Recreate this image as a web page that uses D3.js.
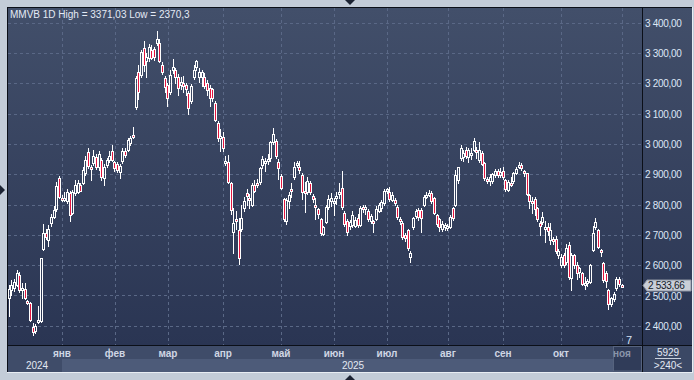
<!DOCTYPE html>
<html>
<head>
<meta charset="utf-8">
<script src="https://cdn.jsdelivr.net/npm/d3@7"></script>
<style>
html, body { margin: 0; padding: 0; background: #c3ccd8; }
svg { display: block; font-family: "Liberation Sans", Arial, sans-serif; }
</style>
</head>
<body>
<svg id="chart" width="694" height="380"></svg>
<script>
// daily candles, MMVB 1D
var opens = [2490,2518,2525,2535,2567,2518,2520,2482,2474,2397,2384,2413,2414,2652,2705,2683,2738,2758,2785,2886,
  2822,2814,2810,2837,2771,2837,2842,2864,2872,2903,2972,2925,2936,2958,2925,2947,2887,2930,2947,2977,
  2939,2933,2908,2942,2977,2980,3002,3030,3123,3238,3227,3315,3272,3282,3310,3313,3332,3332,3262,3216,
  3194,3172,3244,3244,3222,3195,3200,3194,3167,3141,3222,3254,3220,3222,3222,3200,3183,3180,3134,3068,
  3018,3024,2936,2941,2870,2710,2753,2716,2719,2790,2837,2820,2798,2866,2871,2873,2930,2938,2943,2952,
  3007,3011,2940,2894,2819,2746,2810,2850,2892,2933,2925,2897,2845,2842,2872,2828,2799,2784,2751,2703,
  2741,2793,2812,2813,2820,2838,2853,2773,2747,2729,2733,2729,2754,2732,2791,2785,2780,2747,2745,2751,
  2780,2790,2806,2845,2842,2815,2815,2793,2751,2740,2700,2716,2626,2727,2762,2781,2782,2798,2826,2831,
  2837,2820,2765,2751,2718,2725,2721,2727,2787,2798,2881,2952,2958,2980,2958,2966,2980,2980,2947,2971,
  2936,2883,2876,2879,2897,2912,2897,2912,2881,2848,2872,2879,2905,2925,2930,2912,2903,2831,2813,2817,
  2787,2740,2743,2718,2727,2683,2685,2685,2633,2600,2633,2611,2666,2556,2633,2600,2578,2573,2534,2540,
  2545,2650,2725,2716,2650,2606,2573,2518,2471,2489,2524,2553,2534];
var highs = [2535,2550,2555,2584,2578,2542,2542,2486,2478,2408,2404,2465,2625,2736,2720,2732,2770,2795,2875,2893,
  2830,2842,2850,2845,2848,2880,2881,2872,2925,2960,2985,2930,2980,2968,2975,2955,2935,2955,2975,2996,
  2945,2940,2935,2985,2988,3020,3025,3057,3225,3260,3310,3340,3300,3330,3325,3320,3371.03,3345,3270,3225,
  3200,3245,3280,3250,3230,3220,3225,3200,3175,3198,3262,3276,3250,3245,3235,3210,3195,3185,3140,3075,
  3050,3040,2960,2965,2875,2790,2778,2755,2800,2825,2850,2835,2870,2880,2885,2925,2960,2955,2968,3010,
  3052,3015,2950,2900,2822,2820,2840,2870,2940,2945,2945,2905,2875,2890,2878,2835,2820,2790,2755,2730,
  2800,2830,2838,2820,2840,2870,2912,2777,2752,2750,2778,2760,2770,2795,2800,2798,2786,2770,2750,2795,
  2805,2815,2850,2856,2857,2840,2820,2798,2760,2745,2705,2720,2645,2760,2785,2787,2788,2830,2840,2848,
  2845,2825,2770,2755,2745,2740,2735,2765,2792,2915,2925,2995,2980,2990,2985,2985,3018,2990,3005,2975,
  2940,2890,2900,2905,2918,2916,2920,2925,2885,2880,2890,2908,2925,2940,2937,2915,2905,2835,2825,2825,
  2792,2745,2775,2745,2740,2740,2692,2695,2652,2635,2640,2668,2675,2640,2638,2610,2595,2578,2560,2555,
  2605,2729,2754,2720,2652,2610,2580,2520,2495,2510,2562,2560,2536];
var lows = [2432,2500,2515,2530,2512,2490,2487,2472,2416,2370.3,2377,2410,2412,2650,2685,2663,2730,2754,2778,2820,
  2810,2810,2805,2744,2768,2832,2838,2843,2868,2899,2920,2881,2930,2918,2915,2880,2865,2925,2940,2942,
  2912,2908,2886,2938,2958,2975,2998,3018,3115,3148,3220,3240,3222,3275,3280,3277,3325,3270,3230,3170,
  3126,3165,3235,3200,3160,3180,3170,3160,3098,3135,3215,3245,3205,3190,3185,3160,3125,3140,3075,3010,
  2975,2975,2930,2870,2770,2640,2720,2605,2712,2780,2800,2790,2795,2840,2858,2868,2920,2910,2935,2945,
  3000,2955,2885,2850,2745,2736,2790,2825,2885,2925,2903,2818,2775,2835,2835,2808,2753,2755,2700,2700,
  2738,2785,2795,2765,2803,2822,2785,2730,2698,2720,2726,2725,2725,2729,2775,2770,2745,2740,2710,2748,
  2775,2780,2800,2837,2810,2810,2798,2752,2735,2685,2680,2650,2610,2720,2755,2750,2710,2795,2820,2828,
  2805,2770,2730,2712,2713,2715,2716,2722,2750,2795,2870,2948,2945,2955,2940,2950,2975,2955,2940,2930,
  2880,2870,2865,2870,2890,2892,2890,2885,2845,2845,2860,2870,2900,2920,2915,2895,2830,2790,2772,2765,
  2745,2700,2735,2676,2700,2668,2670,2640,2625,2595,2595,2605,2555,2518,2590,2555,2560,2533,2522,2530,
  2540,2648,2720,2655,2630,2545,2527,2454,2465,2480,2518,2530,2532];
var closes = [2520,2534,2545,2573,2518,2524,2490,2477,2419,2380,2399,2418,2622,2707,2692,2719,2760,2782,2860,2826,
  2816,2820,2842,2766,2842,2864,2870,2846,2914,2947,2927,2920,2960,2925,2966,2890,2925,2947,2960,2947,
  2919,2914,2927,2978,2964,3013,3018,3024,3216,3172,3304,3260,3288,3320,3285,3288,3346,3273,3236,3189,
  3150,3227,3255,3222,3183,3203,3190,3181,3120,3191,3244,3273,3236,3238,3190,3178,3150,3150,3079,3018,
  3025,2985,2942,2875,2782,2738,2748,2622,2754,2810,2829,2815,2864,2846,2868,2919,2949,2943,2950,3007,
  3033,2960,2919,2853,2751,2815,2831,2846,2925,2937,2914,2842,2843,2876,2842,2817,2793,2769,2705,2725,
  2791,2817,2823,2813,2828,2841,2791,2736,2710,2743,2765,2749,2732,2787,2784,2791,2752,2762,2743,2784,
  2799,2809,2844,2850,2817,2831,2804,2758,2747,2692,2690,2658,2639,2754,2780,2760,2755,2826,2830,2839,
  2810,2773,2736,2725,2736,2732,2730,2760,2754,2897,2923,2985,2971,2960,2980,2969,3011,2978,2980,2934,
  2886,2879,2892,2901,2912,2897,2908,2892,2850,2875,2870,2903,2916,2930,2921,2905,2835,2810,2808,2785,
  2751,2729,2760,2727,2714,2716,2678,2645,2645,2628,2600,2655,2562,2633,2600,2573,2590,2538,2540,2548,
  2600,2707,2743,2661,2644,2551,2549,2472,2490,2503,2553,2536,2533.66];

var monthNames = ["янв", "фев", "мар", "апр", "май", "июн", "июл", "авг", "сен", "окт", "ноя"];
var monthStarts = [20, 40, 60, 81, 103, 123, 143, 166, 187, 209, 232];
var yearNames = ["2024", "2025"];
var priceTicks = [2400, 2500, 2600, 2700, 2800, 2900, 3000, 3100, 3200, 3300, 3400];
var visibleBars = 240;
var lastPrice = 2533.66;
var volumeLabel = "5929";

var plotL = 8, plotR = 642, plotT = 8, plotB = 345;
var boxR = 692, boxB = 372;

var svg = d3.select("#chart");

var x = d3.scaleLinear().domain([0, visibleBars]).range([plotL, plotR]);
var y = d3.scaleLinear().domain([2400, 3400]).range([325.7, 22.7]);

var fmt = function(v) {
  var s = v.toFixed(2).replace(".", ",");
  var parts = s.split(",");
  return parts[0].replace(/\B(?=(\d{3})+(?!\d))/g, " ") + "," + parts[1];
};

var defs = svg.append("defs");
var grad = defs.append("linearGradient").attr("id", "bg").attr("x1", 0).attr("y1", 0).attr("x2", 0).attr("y2", 1);
grad.append("stop").attr("offset", "0%").attr("stop-color", "#424f6a");
grad.append("stop").attr("offset", "100%").attr("stop-color", "#2a3553");

// frame
svg.append("rect").attr("x", 7).attr("y", 7).attr("width", boxR - 7).attr("height", boxB - 7).attr("fill", "#3c4965");
svg.append("rect").attr("x", plotL).attr("y", plotT).attr("width", boxR - plotL).attr("height", plotB - plotT)
  .attr("fill", "url(#bg)");

// bottom axis bands
svg.append("rect").attr("x", plotL).attr("y", plotB + 1).attr("width", plotR - plotL).attr("height", boxB - plotB - 1)
  .attr("fill", "#3f4c69");
svg.append("rect").attr("x", Math.round(x(monthStarts[0] + 0.5))).attr("y", 359)
  .attr("width", 613 - Math.round(x(monthStarts[0] + 0.5))).attr("height", boxB - 359)
  .attr("fill", "#4d5b79");
svg.append("rect").attr("x", plotR + 1).attr("y", plotB + 1).attr("width", boxR - plotR - 1).attr("height", boxB - plotB - 1)
  .attr("fill", "#3b4865");

// current period box (under the labels)
svg.append("rect").attr("x", 613.5).attr("y", plotB + 1.5).attr("width", plotR - 614).attr("height", boxB - plotB - 2.5)
  .attr("fill", "#2c3754").attr("fill-opacity", 0.75).attr("stroke", "#56637e");

// grid
svg.append("g").selectAll("line").data(priceTicks).enter().append("line")
  .attr("x1", plotL).attr("x2", plotR)
  .attr("y1", function(d) { return Math.round(y(d)) + 0.5; })
  .attr("y2", function(d) { return Math.round(y(d)) + 0.5; })
  .attr("stroke", "#5a6886").attr("stroke-dasharray", "3,3");

svg.append("g").selectAll("line").data(monthStarts).enter().append("line")
  .attr("x1", function(d) { return Math.round(x(d + 0.5)) + 0.5; })
  .attr("x2", function(d) { return Math.round(x(d + 0.5)) + 0.5; })
  .attr("y1", plotT).attr("y2", plotB)
  .attr("stroke", "#5a6886").attr("stroke-dasharray", "3,3");

// candles
var candles = d3.range(closes.length).map(function(i) {
  return { i: i, o: opens[i], h: highs[i], l: lows[i], c: closes[i] };
});

var cg = svg.append("g");
candles.forEach(function(d) {
  var left = Math.floor(x(d.i + 0.5)) - 1;
  var top = Math.round(y(Math.max(d.o, d.c)));
  var bot = Math.round(y(Math.min(d.o, d.c)));
  if (bot - top < 2) bot = top + 2;
  var hi = Math.round(y(d.h)), lo = Math.round(y(d.l));
  if (hi < top) {
    cg.append("line").attr("x1", left + 1.5).attr("x2", left + 1.5)
      .attr("y1", hi).attr("y2", top).attr("stroke", "#ffffff");
  }
  if (lo > bot) {
    cg.append("line").attr("x1", left + 1.5).attr("x2", left + 1.5)
      .attr("y1", bot + 1).attr("y2", lo + 1).attr("stroke", "#ffffff");
  }
  cg.append("rect")
    .attr("x", left + 0.5).attr("y", top + 0.5)
    .attr("width", 2).attr("height", bot - top)
    .attr("fill", d.c < d.o ? "#e3153f" : "none")
    .attr("stroke", "#ffffff");
});

// separators
svg.append("line").attr("x1", plotR + 0.5).attr("x2", plotR + 0.5).attr("y1", plotT).attr("y2", boxB)
  .attr("stroke", "#0b0f18");
svg.append("line").attr("x1", plotL).attr("x2", boxR).attr("y1", plotB + 0.5).attr("y2", plotB + 0.5)
  .attr("stroke", "#0b0f18");
svg.append("line").attr("x1", 7.5).attr("x2", 7.5).attr("y1", 7).attr("y2", boxB).attr("stroke", "#0b0f18");
svg.append("line").attr("x1", 7).attr("x2", boxR).attr("y1", 7.5).attr("y2", 7.5).attr("stroke", "#0b0f18");
svg.append("line").attr("x1", boxR + 0.5).attr("x2", boxR + 0.5).attr("y1", 7).attr("y2", boxB + 1).attr("stroke", "#e8edf3");
svg.append("line").attr("x1", 7).attr("x2", boxR + 1).attr("y1", boxB + 0.5).attr("y2", boxB + 0.5).attr("stroke", "#e8edf3");

// right axis
svg.append("g").selectAll("text").data(priceTicks).enter().append("text")
  .attr("x", plotR + 3).attr("y", function(d) { return y(d) + 1.5; })
  .attr("dominant-baseline", "middle")
  .attr("font-size", 10).attr("letter-spacing", -0.3)
  .attr("fill", "#dde6f6")
  .text(function(d) { return fmt(d); });

// last price marker
var ly = Math.round(y(lastPrice)) + 0.5;
svg.append("path")
  .attr("d", "M" + (plotR + 1) + "," + ly + "L" + (plotR + 5) + "," + (ly - 5.5) + "L" + (boxR - 1) + "," + (ly - 5.5) +
    "L" + (boxR - 1) + "," + (ly + 5.5) + "L" + (plotR + 5) + "," + (ly + 5.5) + "Z")
  .attr("fill", "#c9ced7").attr("stroke", "#8e95a3");
svg.append("text").attr("x", plotR + 6).attr("y", ly + 0.5).attr("dominant-baseline", "middle")
  .attr("font-size", 10).attr("letter-spacing", -0.3).attr("fill", "#141a28").text(fmt(lastPrice));

// month labels
svg.append("g").selectAll("text").data(monthNames).enter().append("text")
  .attr("x", function(d, i) { return Math.round(x(monthStarts[i] + 0.5)); })
  .attr("y", 357).attr("text-anchor", "middle")
  .attr("font-size", 10).attr("font-weight", "bold")
  .attr("fill", function(d, i) { return i === monthNames.length - 1 ? "#8a95aa" : "#cfd6e4"; })
  .text(function(d) { return d; });

// year labels
var yStart = Math.round(x(monthStarts[0] + 0.5));
svg.append("text").attr("x", (plotL + yStart) / 2 + 2).attr("y", 369).attr("text-anchor", "middle")
  .attr("font-size", 10).attr("fill", "#e3e9f3").text(yearNames[0]);
svg.append("text").attr("x", (yStart + plotR) / 2 + 1).attr("y", 369).attr("text-anchor", "middle")
  .attr("font-size", 10).attr("fill", "#e3e9f3").text(yearNames[1]);

svg.append("path").attr("d", "M617,345L620,341L623,345Z").attr("fill", "#26304a");
svg.append("text").attr("x", 629).attr("y", 344).attr("text-anchor", "middle")
  .attr("font-size", 11).attr("fill", "#d6e2f6").text("7");

// right bottom panel
svg.append("text").attr("x", 668).attr("y", 356).attr("text-anchor", "middle")
  .attr("font-size", 10).attr("fill", "#e3e9f3").text(volumeLabel);
svg.append("line").attr("x1", 655).attr("x2", 681).attr("y1", 358.5).attr("y2", 358.5).attr("stroke", "#c9d1de");
svg.append("text").attr("x", 668).attr("y", 369).attr("text-anchor", "middle")
  .attr("font-size", 10).attr("fill", "#e3e9f3").text(">" + visibleBars + "<");

// title
svg.append("text").attr("x", 10).attr("y", 18).attr("font-size", 10).attr("fill", "#e4eaf5")
  .text("MMVB 1D High = 3371,03 Low = 2370,3");

// splitter arrows
svg.append("path").attr("d", "M345,0L355,0L350,5Z").attr("fill", "#1c2333");
svg.append("path").attr("d", "M0,185L0,195L5,190Z").attr("fill", "#1c2333");
svg.append("path").attr("d", "M345,380L355,380L350,375Z").attr("fill", "#1c2333");
</script>
</body>
</html>
